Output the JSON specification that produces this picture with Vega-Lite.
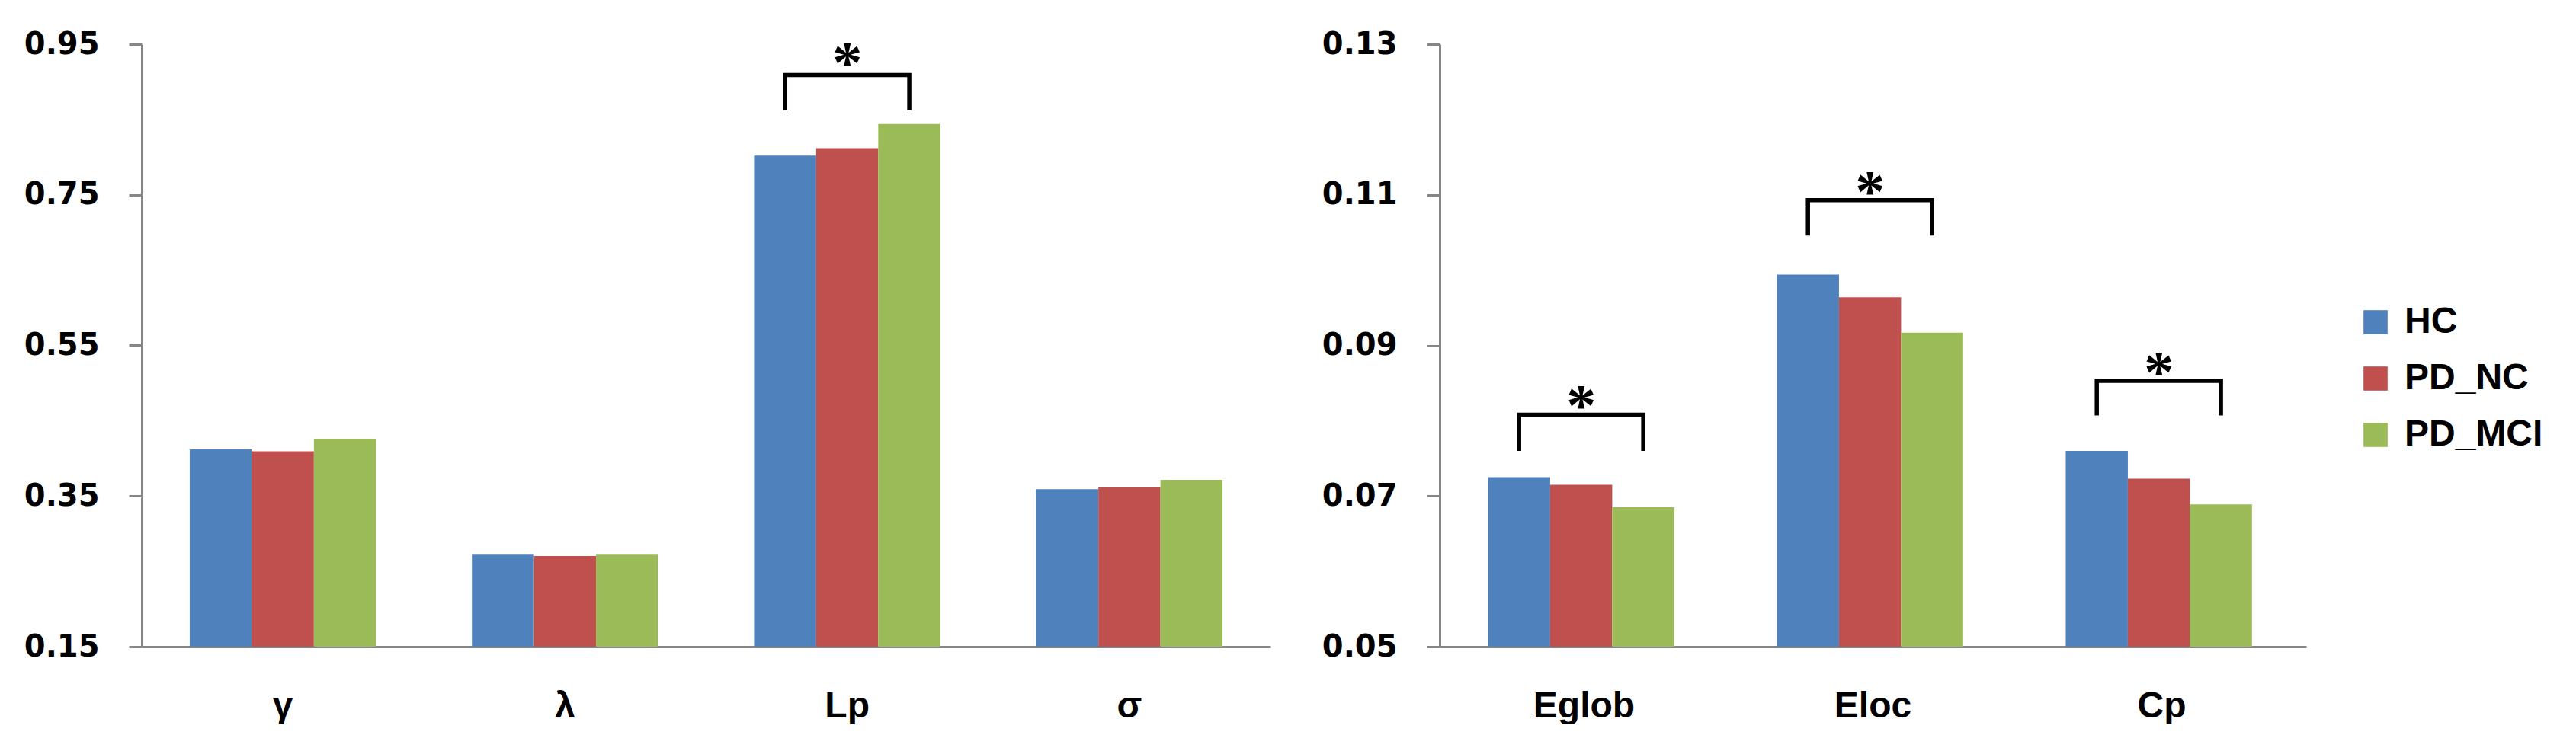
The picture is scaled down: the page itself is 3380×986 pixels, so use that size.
{
  "$schema": "https://vega.github.io/schema/vega-lite/v6.json",
  "background": "white",
  "padding": {"left": 31, "top": 38, "right": 0, "bottom": 0},
  "spacing": 67,
  "config": {
    "view": {"stroke": null},
    "axis": {"domainColor": "#868686", "domainWidth": 3, "tickColor": "#868686", "tickWidth": 3, "grid": false, "labelColor": "black", "title": null, "labelFlush": false, "labelOverlap": false},
    "axisY": {"labelFont": "DejaVu Sans", "labelFontWeight": "bold", "labelFontSize": 40, "tickSize": 17, "labelPadding": 39, "format": ".2f"},
    "axisX": {"labelFont": "Liberation Sans", "labelFontWeight": "bold", "labelFontSize": 48, "ticks": false, "labelPadding": 54, "labelAngle": 0},
    "legend": {"title": null, "symbolType": "square", "symbolSize": 1000, "symbolStrokeWidth": 0, "labelFont": "Liberation Sans", "labelFontWeight": "bold", "labelFontSize": 48, "labelColor": "black", "labelOffset": 14, "labelLimit": 500, "rowPadding": 26, "padding": 0}
  },
  "datasets": {
    "bars": [
      {"panel": "L", "measure": "γ", "group": "HC", "value": 0.412},
      {"panel": "L", "measure": "γ", "group": "PD_NC", "value": 0.4095},
      {"panel": "L", "measure": "γ", "group": "PD_MCI", "value": 0.426},
      {"panel": "L", "measure": "λ", "group": "HC", "value": 0.272},
      {"panel": "L", "measure": "λ", "group": "PD_NC", "value": 0.2703},
      {"panel": "L", "measure": "λ", "group": "PD_MCI", "value": 0.272},
      {"panel": "L", "measure": "Lp", "group": "HC", "value": 0.802},
      {"panel": "L", "measure": "Lp", "group": "PD_NC", "value": 0.812},
      {"panel": "L", "measure": "Lp", "group": "PD_MCI", "value": 0.844},
      {"panel": "L", "measure": "σ", "group": "HC", "value": 0.359},
      {"panel": "L", "measure": "σ", "group": "PD_NC", "value": 0.3613},
      {"panel": "L", "measure": "σ", "group": "PD_MCI", "value": 0.3714},
      {"panel": "R", "measure": "Eglob", "group": "HC", "value": 0.0725},
      {"panel": "R", "measure": "Eglob", "group": "PD_NC", "value": 0.0715},
      {"panel": "R", "measure": "Eglob", "group": "PD_MCI", "value": 0.0685},
      {"panel": "R", "measure": "Eloc", "group": "HC", "value": 0.0994},
      {"panel": "R", "measure": "Eloc", "group": "PD_NC", "value": 0.0964},
      {"panel": "R", "measure": "Eloc", "group": "PD_MCI", "value": 0.0917},
      {"panel": "R", "measure": "Cp", "group": "HC", "value": 0.076},
      {"panel": "R", "measure": "Cp", "group": "PD_NC", "value": 0.0723},
      {"panel": "R", "measure": "Cp", "group": "PD_MCI", "value": 0.0689}
    ],
    "brackets": [
      {"panel": "L", "bid": "Lp", "measure": "Lp", "group": "HC", "value": 0.862, "ord": 0},
      {"panel": "L", "bid": "Lp", "measure": "Lp", "group": "HC", "value": 0.909, "ord": 1},
      {"panel": "L", "bid": "Lp", "measure": "Lp", "group": "PD_MCI", "value": 0.909, "ord": 2},
      {"panel": "L", "bid": "Lp", "measure": "Lp", "group": "PD_MCI", "value": 0.862, "ord": 3},
      {"panel": "R", "bid": "Eglob", "measure": "Eglob", "group": "HC", "value": 0.076, "ord": 0},
      {"panel": "R", "bid": "Eglob", "measure": "Eglob", "group": "HC", "value": 0.0808, "ord": 1},
      {"panel": "R", "bid": "Eglob", "measure": "Eglob", "group": "PD_MCI", "value": 0.0808, "ord": 2},
      {"panel": "R", "bid": "Eglob", "measure": "Eglob", "group": "PD_MCI", "value": 0.076, "ord": 3},
      {"panel": "R", "bid": "Eloc", "measure": "Eloc", "group": "HC", "value": 0.1046, "ord": 0},
      {"panel": "R", "bid": "Eloc", "measure": "Eloc", "group": "HC", "value": 0.1093, "ord": 1},
      {"panel": "R", "bid": "Eloc", "measure": "Eloc", "group": "PD_MCI", "value": 0.1093, "ord": 2},
      {"panel": "R", "bid": "Eloc", "measure": "Eloc", "group": "PD_MCI", "value": 0.1046, "ord": 3},
      {"panel": "R", "bid": "Cp", "measure": "Cp", "group": "HC", "value": 0.0807, "ord": 0},
      {"panel": "R", "bid": "Cp", "measure": "Cp", "group": "HC", "value": 0.0853, "ord": 1},
      {"panel": "R", "bid": "Cp", "measure": "Cp", "group": "PD_MCI", "value": 0.0853, "ord": 2},
      {"panel": "R", "bid": "Cp", "measure": "Cp", "group": "PD_MCI", "value": 0.0807, "ord": 3}
    ],
    "stars": [
      {"panel": "L", "measure": "Lp", "group": "PD_NC", "value": 0.936, "label": "*"},
      {"panel": "R", "measure": "Eglob", "group": "PD_NC", "value": 0.0831, "label": "*"},
      {"panel": "R", "measure": "Eloc", "group": "PD_NC", "value": 0.1115, "label": "*"},
      {"panel": "R", "measure": "Cp", "group": "PD_NC", "value": 0.0875, "label": "*"}
    ]
  },
  "hconcat": [
    {
      "width": 1481,
      "height": 791,
      "encoding": {
        "x": {"field": "measure", "type": "nominal", "sort": ["γ", "λ", "Lp", "σ"], "scale": {"paddingInner": 0.34, "paddingOuter": 0.17}},
        "xOffset": {"field": "group", "type": "nominal", "sort": ["HC", "PD_NC", "PD_MCI"], "scale": {"paddingInner": 0, "paddingOuter": 0}},
        "y": {"field": "value", "type": "quantitative", "scale": {"domain": [0.15, 0.95], "nice": false, "zero": false}, "axis": {"values": [0.15, 0.35, 0.55, 0.75, 0.95]}}
      },
      "layer": [
        {
          "data": {"name": "bars"},
          "transform": [{"filter": "datum.panel === 'L'"}],
          "mark": {"type": "bar"},
          "encoding": {
            "y2": {"datum": 0.15},
            "color": {"field": "group", "type": "nominal", "sort": ["HC", "PD_NC", "PD_MCI"], "scale": {"domain": ["HC", "PD_NC", "PD_MCI"], "range": ["#4F81BD", "#C0504D", "#9BBB59"]}, "legend": {"orient": "none", "legendX": 2907, "legendY": 341}}
          }
        },
        {
          "data": {"name": "brackets"},
          "transform": [{"filter": "datum.panel === 'L'"}],
          "mark": {"type": "line", "color": "black", "strokeWidth": 5.5, "strokeJoin": "miter", "strokeCap": "butt"},
          "encoding": {
            "detail": {"field": "bid"},
            "order": {"field": "ord", "type": "quantitative"}
          }
        },
        {
          "data": {"name": "stars"},
          "transform": [{"filter": "datum.panel === 'L'"}],
          "mark": {"type": "text", "font": "Liberation Serif", "fontSize": 78, "fontWeight": "bold", "baseline": "alphabetic", "dy": 36, "color": "black"},
          "encoding": {"text": {"field": "label"}}
        }
      ]
    },
    {
      "width": 1137,
      "height": 791,
      "encoding": {
        "x": {"field": "measure", "type": "nominal", "sort": ["Eglob", "Eloc", "Cp"], "scale": {"paddingInner": 0.335, "paddingOuter": 0.1675}},
        "xOffset": {"field": "group", "type": "nominal", "sort": ["HC", "PD_NC", "PD_MCI"], "scale": {"paddingInner": 0, "paddingOuter": 0}},
        "y": {"field": "value", "type": "quantitative", "scale": {"domain": [0.05, 0.13], "nice": false, "zero": false}, "axis": {"values": [0.05, 0.07, 0.09, 0.11, 0.13]}}
      },
      "layer": [
        {
          "data": {"name": "bars"},
          "transform": [{"filter": "datum.panel === 'R'"}],
          "mark": {"type": "bar"},
          "encoding": {
            "y2": {"datum": 0.05},
            "color": {"field": "group", "type": "nominal", "sort": ["HC", "PD_NC", "PD_MCI"], "scale": {"domain": ["HC", "PD_NC", "PD_MCI"], "range": ["#4F81BD", "#C0504D", "#9BBB59"]}, "legend": {"orient": "none", "legendX": 2907, "legendY": 341}}
          }
        },
        {
          "data": {"name": "brackets"},
          "transform": [{"filter": "datum.panel === 'R'"}],
          "mark": {"type": "line", "color": "black", "strokeWidth": 5.5, "strokeJoin": "miter", "strokeCap": "butt"},
          "encoding": {
            "detail": {"field": "bid"},
            "order": {"field": "ord", "type": "quantitative"}
          }
        },
        {
          "data": {"name": "stars"},
          "transform": [{"filter": "datum.panel === 'R'"}],
          "mark": {"type": "text", "font": "Liberation Serif", "fontSize": 78, "fontWeight": "bold", "baseline": "alphabetic", "dy": 36, "color": "black"},
          "encoding": {"text": {"field": "label"}}
        }
      ]
    }
  ]
}
